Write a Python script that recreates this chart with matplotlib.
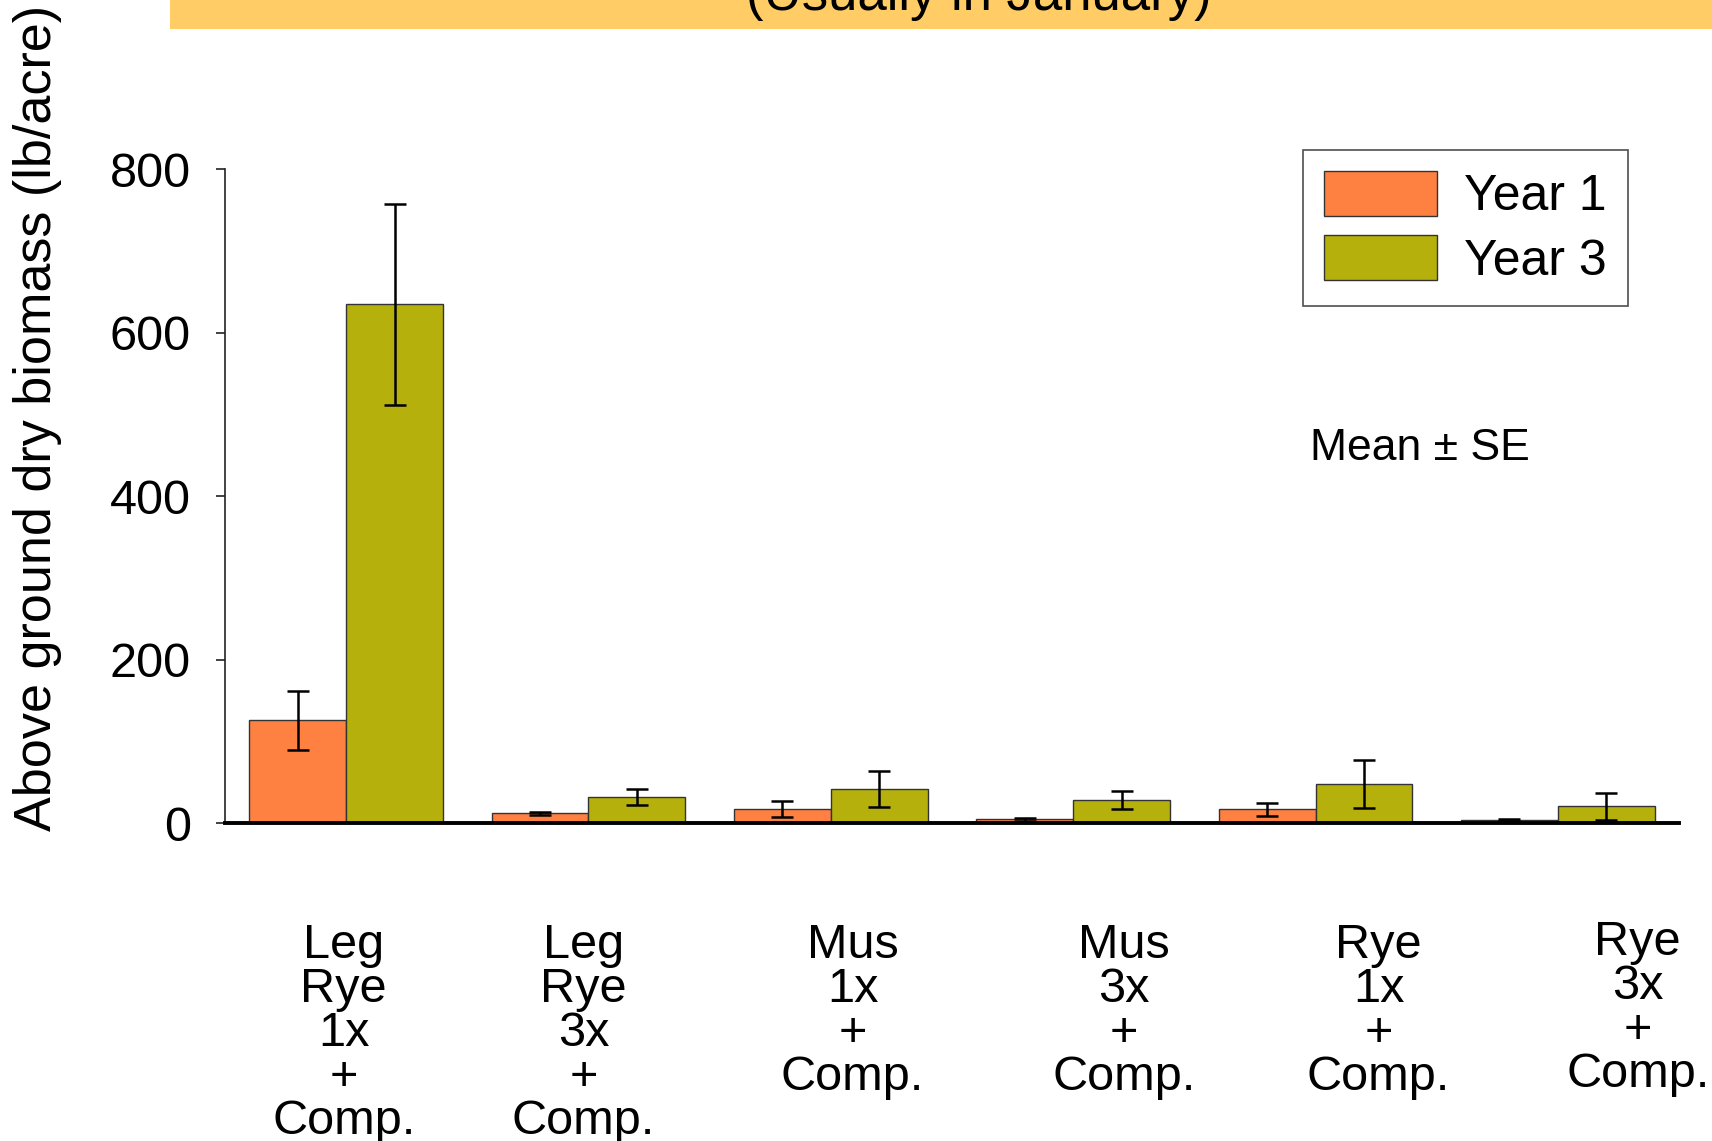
import matplotlib
matplotlib.use("Agg")
import matplotlib.pyplot as plt
import matplotlib.transforms as mtransforms
from matplotlib.patches import Rectangle
import numpy as np

plt.rcParams['font.family'] = ['Liberation Sans', 'DejaVu Sans']

# Treatments (multi-line category labels)
treatments = [
    "Leg\nRye\n1x\n+\nComp.",
    "Leg\nRye\n3x\n+\nComp.",
    "Mus\n1x\n+\nComp.",
    "Mus\n3x\n+\nComp.",
    "Rye\n1x\n+\nComp.",
    "Rye\n3x\n+\nComp.",
]
series_names = ["Year 1", "Year 3"]

# Above ground dry biomass (lb/acre), mean and standard error
year1_mean = [126, 12, 17.5, 5, 17, 4]
year1_se = [36, 2, 10, 2, 7.5, 1.5]
year3_mean = [635, 32, 42, 28, 48, 21]
year3_se = [123, 9.5, 22, 11, 29.5, 16.5]

y_ticks = [0, 200, 400, 600, 800]

col_y1 = "#FF8142"
col_y3 = "#B5B00B"

fig = plt.figure(figsize=(17.12, 11.41), dpi=100)

# Banner strip at the top with the cropped subtitle
fig.patches.append(Rectangle((170 / 1712, 1 - 29 / 1141), 1 - 170 / 1712, 29 / 1141,
                             transform=fig.transFigure, facecolor="#FFCC66",
                             edgecolor="none", zorder=0))
fig.text(979 / 1712, 1 - 10 / 1141, "(Usually in January)", ha="center",
         va="baseline", fontsize=38, color="black")

ax = fig.add_axes([225 / 1712, (1141 - 823.3) / 1141, (1679 - 225) / 1712, (823.3 - 169.3) / 1141])

x = np.arange(len(treatments))
w = 0.4
err_kw = dict(ecolor="black", elinewidth=1.8, capsize=8, capthick=1.8)
ax.bar(x - w / 2, year1_mean, w, yerr=year1_se, color=col_y1, edgecolor="#333333",
       linewidth=1.0, label=series_names[0], error_kw=err_kw, zorder=2)
ax.bar(x + w / 2, year3_mean, w, yerr=year3_se, color=col_y3, edgecolor="#333333",
       linewidth=1.0, label=series_names[1], error_kw=err_kw, zorder=2)

ax.set_xlim(-0.5, len(treatments) - 0.5)
ax.set_ylim(0, 800)
ax.set_yticks(y_ticks)
ax.set_yticklabels([str(t) for t in y_ticks], fontsize=35)
ax.tick_params(axis="y", direction="out", length=6.5, width=1.2, pad=18, color="#222222")
ax.set_xticks([])

for s in ["top", "right"]:
    ax.spines[s].set_visible(False)
ax.spines["left"].set_linewidth(1.2)
ax.spines["left"].set_color("#222222")
ax.spines["bottom"].set_linewidth(2.8)
ax.spines["bottom"].set_color("black")

# Category labels placed under each group
label_dx = [-0.01, -0.02, 0.09, 0.21, 0.26, 0.33]
label_dy = [0, 0, 0, 0, 0, 3 / 1141]
trans = mtransforms.blended_transform_factory(ax.transData, fig.transFigure)
for i, lab in enumerate(treatments):
    ax.text(x[i] + label_dx[i], 1 - 923 / 1141 + label_dy[i], lab, transform=trans,
            ha="center", va="top", fontsize=35, linespacing=0.97, multialignment="center",
            clip_on=False)

fig.text(38 / 1712, 1 - 418 / 1141, "Above ground dry biomass (lb/acre)", rotation=90,
         ha="center", va="center", fontsize=37.5)

leg = ax.legend(loc="upper left", bbox_to_anchor=(1303 / 1712, 1 - 150 / 1141),
                bbox_transform=fig.transFigure, fontsize=36, frameon=True, fancybox=False,
                shadow=False, borderpad=0.42, handlelength=2.25, handleheight=1.0,
                handletextpad=0.55, labelspacing=0.3, borderaxespad=0)
leg.get_frame().set_edgecolor("#222222")
leg.get_frame().set_linewidth(1.2)

fig.text(1310 / 1712, 1 - 449 / 1141, "Mean \u00b1 SE", ha="left", va="center", fontsize=32)

fig.savefig("out.png", dpi=100)
